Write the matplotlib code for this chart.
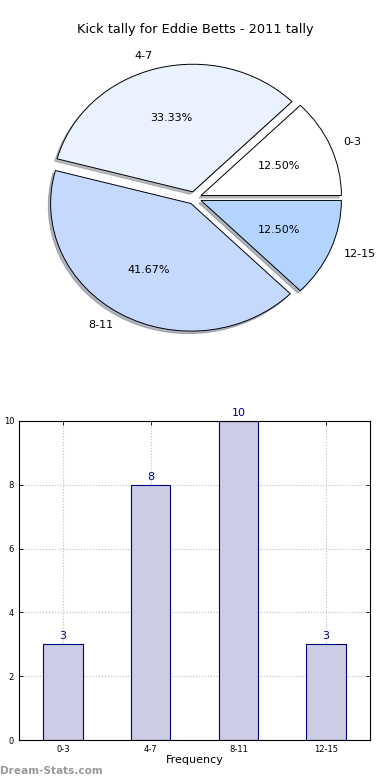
import numpy as np
import matplotlib
matplotlib.use("Agg")
import matplotlib.pyplot as plt

# kick tally data
categories = ["0-3", "4-7", "8-11", "12-15"]
counts = [3, 8, 10, 3]
pie_colors = ["#FFFFFF", "#EAF1FF", "#C5D9FF", "#B3D4FF"]
title = "Kick tally for Eddie Betts - 2011 tally"

fig = plt.figure(figsize=(3.9, 7.8), dpi=100)

# --- pie (old-style, not equal aspect) ---
ax1 = fig.add_axes([19 / 390, 1 - 357.5 / 780, 351 / 390, 319 / 780])
ax1.pie(counts, labels=categories, colors=pie_colors, autopct="%.2f%%",
        explode=[0.05] * len(counts), shadow={"ox": -0.012, "oy": -0.014, "shade": 0.5},
        startangle=0, textprops={"fontsize": 8},
        wedgeprops={"edgecolor": "black", "linewidth": 0.7})
ax1.set_aspect("auto")
ax1.set_xlim(-1.25, 1.25)
ax1.set_ylim(-1.25, 1.25)
ax1.axis("off")
fig.text(0.5, 1 - 30 / 780, title, ha="center", va="center", fontsize=9.3)

# --- bar chart ---
ax2 = fig.add_axes([19 / 390, 40 / 780, 351 / 390, 319 / 780])
x = np.arange(len(categories))
ax2.bar(x, counts, width=0.45, color="#CCCCE5", edgecolor="#000080", linewidth=0.8, zorder=2)
for xi, c in zip(x, counts):
    ax2.text(xi, c + 0.1, str(c), ha="center", va="bottom", fontsize=8, color="#000080")
ax2.set_xlim(-0.5, 3.5)
ax2.set_ylim(0, 10)
ax2.set_xticks(x)
ax2.set_xticklabels(categories)
ax2.set_yticks([0, 2, 4, 6, 8, 10])
ax2.tick_params(labelsize=6, direction="in", top=True, right=True, length=3, width=0.6)
ax2.grid(True, linestyle=":", color="#bbbbbb", linewidth=0.8, zorder=0)
ax2.set_axisbelow(True)
ax2.set_xlabel("Frequency", fontsize=8, labelpad=1)
# label sits mostly off the left edge, as in the original
ax2.set_ylabel("Number of Kicks", fontsize=7.5)
ax2.yaxis.set_label_coords(-15.5 / 351, 0.5)
for s in ax2.spines.values():
    s.set_linewidth(0.8)

fig.text(0.0, 1 - 771 / 780, "Dream-Stats.com", ha="left", va="center",
         fontsize=7.6, color="#999999", fontweight="bold")

fig.savefig("out.png", dpi=100)
